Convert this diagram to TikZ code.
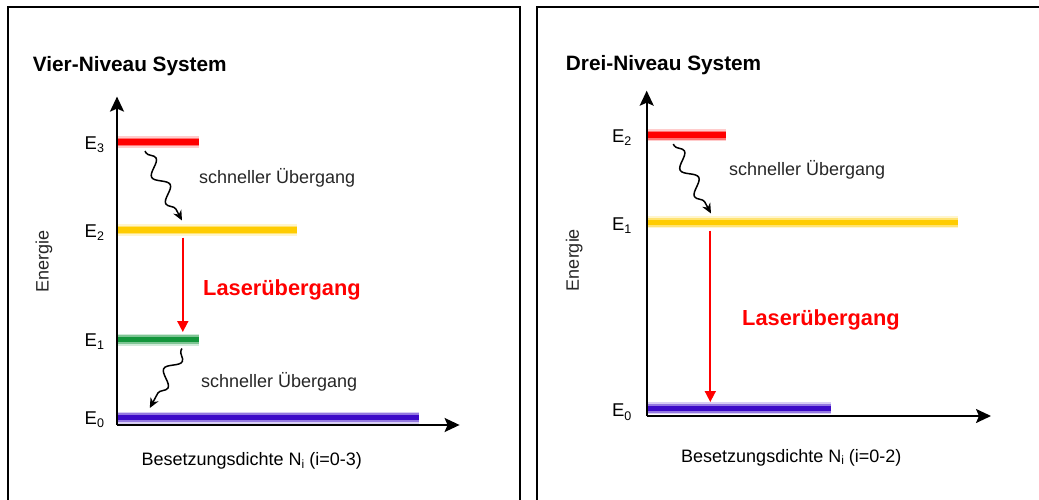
\documentclass[tikz,border=0pt]{standalone}
\usepackage{fontspec}
\setmainfont{Liberation Sans}
\usetikzlibrary{arrows.meta,decorations.pathmorphing}

\definecolor{lvred}{RGB}{255,0,0}
\definecolor{lvyellow}{RGB}{255,204,0}
\definecolor{lvgreen}{RGB}{20,150,60}
\definecolor{lvblue}{RGB}{60,10,200}
\definecolor{laserred}{RGB}{255,0,0}

\newcommand{\sub}[1]{\raisebox{-3.5pt}{\fontsize{12.5}{12.5}\selectfont #1}}

\tikzset{
  panel/.style={draw=black, line width=2pt},
  axis/.style={line width=2pt, -{Stealth[length=15pt,width=14pt,inset=3pt]}},
  % energy level: soft-edged bar built from three bands
  level/.style={fill=#1!20, minimum height=12pt, inner sep=0pt, anchor=west, draw=none,
                path picture={
                  \fill[#1!55] ([yshift=-4.3pt]path picture bounding box.west) rectangle
                               ([yshift=4.3pt]path picture bounding box.east);
                  \fill[#1] ([yshift=-2.8pt]path picture bounding box.west) rectangle
                            ([yshift=2.8pt]path picture bounding box.east);}},
  elabel/.style={font=\fontsize{18.5}{18.5}\selectfont, inner sep=0pt, anchor=west},
  note/.style={font=\fontsize{18}{20}\selectfont, inner sep=0pt, anchor=west, text=black!85},
  title/.style={font=\fontsize{20.8}{24}\selectfont\bfseries, inner sep=0pt, anchor=west},
  lasertext/.style={font=\fontsize{21.8}{24}\selectfont\bfseries, text=laserred, inner sep=0pt, anchor=west},
  laser/.style={draw=laserred, line width=1.7pt, -{Triangle[length=11pt,width=11pt]}},
  relax/.style={line width=1.5pt, -{Stealth[length=10pt,width=9pt]}, decorate,
                decoration={snake, amplitude=6.5pt, segment length=30pt, pre length=2pt, post length=9pt}},
}

\begin{document}
\begin{tikzpicture}[x=1pt,y=-1pt]
\useasboundingbox (0,0) rectangle (1039,500);
\clip (0,0) rectangle (1039,500);

% ---------------- four-level system ----------------
\draw[panel] (7.7,510) -- (7.7,7.4) -- (519.5,7.4) -- (519.5,510);
\node[title] (t4) at (32.7,65.7) {Vier-Niveau System};

\coordinate (o4) at (117,425);
\coordinate (y4) at (117,96.6);
\coordinate (x4) at (459.6,425);
\draw[axis] (o4) -- (y4);
\draw[axis] (o4) -- (x4);

\node[level=lvred,    minimum width=81pt]  (A3) at (118,142) {};
\node[level=lvyellow, minimum width=179pt] (A2) at (118,230) {};
\node[level=lvgreen,  minimum width=81pt]  (A1) at (118,339.5) {};
\node[level=lvblue,   minimum width=301pt] (A0) at (118,417.5) {};

\node[elabel] (eA3) at (84.5,144.5) {E\sub{3}};
\node[elabel] (eA2) at (84.5,232.5) {E\sub{2}};
\node[elabel] (eA1) at (84.5,341.5) {E\sub{1}};
\node[elabel] (eA0) at (84.5,419.5) {E\sub{0}};

\node[note, rotate=90, anchor=center] (en4) at (44,261.5) {Energie};
\node[note, text=black] (bs4) at (141.4,461)
  {Besetzungsdichte N\raisebox{-2.5pt}{\fontsize{12}{12}\selectfont i} (i=0-3)};

\coordinate (w1s) at (145,151);
\coordinate (w1e) at (182,220.5);
\draw[relax] (w1s) -- (w1e);
\node[note] (s41) at (199,177.5) {schneller Übergang};

\coordinate (l4s) at (182.8,237.5);
\coordinate (l4e) at (182.8,332);
\draw[laser] (l4s) -- (l4e);
\node[lasertext] (L4) at (203,289.5) {Laserübergang};

\coordinate (w2s) at (182,348.5);
\coordinate (w2e) at (149.8,408);
\draw[relax] (w2s) -- (w2e);
\node[note] (s42) at (201,381.5) {schneller Übergang};

% ---------------- three-level system ----------------
\draw[panel] (536.5,510) -- (536.5,7.4) -- (1050,7.4) -- (1050,510);
\node[title] (t3) at (565.7,65) {Drei-Niveau System};

\coordinate (o3) at (646.7,416);
\coordinate (y3) at (646.7,90.7);
\coordinate (x3) at (991,416);
\draw[axis] (o3) -- (y3);
\draw[axis] (o3) -- (x3);

\node[level=lvred,    minimum width=78pt]  (B2) at (648,135.3) {};
\node[level=lvyellow, minimum width=310pt] (B1) at (648,222.3) {};
\node[level=lvblue,   minimum width=183pt] (B0) at (648,408.3) {};

\node[elabel] (eB2) at (611.8,137.8) {E\sub{2}};
\node[elabel] (eB1) at (611.8,225.5) {E\sub{1}};
\node[elabel] (eB0) at (611.8,412)   {E\sub{0}};

\node[note, rotate=90, anchor=center] (en3) at (574.3,260) {Energie};
\node[note, text=black] (bs3) at (681,457.7)
  {Besetzungsdichte N\raisebox{-2.5pt}{\fontsize{12}{12}\selectfont i} (i=0-2)};

\coordinate (w3s) at (673.3,144);
\coordinate (w3e) at (711,213.5);
\draw[relax] (w3s) -- (w3e);
\node[note] (s31) at (729,170) {schneller Übergang};

\coordinate (l3s) at (710.3,230.7);
\coordinate (l3e) at (710.3,402);
\draw[laser] (l3s) -- (l3e);
\node[lasertext] (L3) at (742,320) {Laserübergang};
\end{tikzpicture}
\end{document}
